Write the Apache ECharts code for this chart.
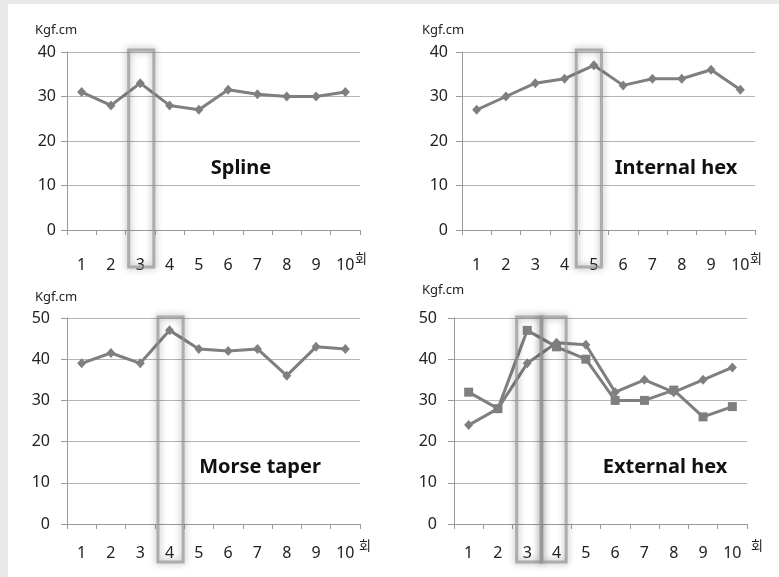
<!DOCTYPE html>
<html>
<head>
<meta charset="utf-8">
<script src="https://cdn.jsdelivr.net/npm/echarts@6/dist/echarts.min.js"></script>
<style>
html,body{margin:0;padding:0;background:#e8e8e8;}
#c{width:779px;height:577px;}
</style>
</head>
<body>
<div id="c"></div>
<script>
// ---- data ----
const categories = ['1','2','3','4','5','6','7','8','9','10'];
const splineValues = [31, 28, 33, 28, 27, 31.5, 30.5, 30, 30, 31];
const internalHexValues = [27, 30, 33, 34, 37, 32.5, 34, 34, 36, 31.5];
const morseTaperValues = [39, 41.5, 39, 47, 42.5, 42, 42.5, 36, 43, 42.5];
const externalHexDiamondValues = [24, 28, 39, 44, 43.5, 32, 35, 32, 35, 38];
const externalHexSquareValues = [32, 28, 47, 43, 40, 30, 30, 32.5, 26, 28.5];
const panelTitles = ['Spline', 'Internal hex', 'Morse taper', 'External hex'];
const yMaxValues = [40, 40, 50, 50];
const highlightCategories = [['3'], ['5'], ['4'], ['3', '4']];
const unitLabel = 'Kgf.cm';
const countLabel = '회';

// ---- layout ----
const grids = [
  {left: 67, top: 52, width: 293, height: 178},
  {left: 462, top: 52, width: 293, height: 178},
  {left: 67, top: 318, width: 293, height: 206},
  {left: 454, top: 318, width: 293, height: 206}
];
const xLabelMargin = [27, 27, 21, 21];
const yLabelMargin = [11, 14, 17, 17];
const countPos = [[355, 252], [750, 252], [359, 539], [751, 539]];
const unitPos = [[35, 30], [422, 30], [35, 297], [422, 290]];
const titlePos = [[241, 168], [676, 168], [260, 467], [665, 467]];
const boxDx = [[1], [-5], [1], [2, -3]];
const boxY = [[50, 267], [50, 267], [317, 562], [317, 562]];

const FONT = '"Noto Sans", "Noto Sans CJK KR", sans-serif';
const LINE = '#7f7f7f';

const xAxes = grids.map((g, i) => ({
  type: 'category', gridIndex: i, data: categories, boundaryGap: true,
  axisLine: {show: true, lineStyle: {color: '#9a9a9a', width: 1}},
  axisTick: {show: true, length: 5, lineStyle: {color: '#9a9a9a'}},
  axisLabel: {color: '#222', fontSize: 16, fontFamily: FONT, margin: xLabelMargin[i]},
  splitLine: {show: false}
}));
const yAxes = grids.map((g, i) => ({
  type: 'value', gridIndex: i, min: 0, max: yMaxValues[i], interval: 10,
  axisLine: {show: true, lineStyle: {color: '#9a9a9a', width: 1}},
  axisTick: {show: true, length: 6, lineStyle: {color: '#9a9a9a'}},
  axisLabel: {color: '#222', fontSize: 16, fontFamily: FONT, margin: yLabelMargin[i]},
  splitLine: {show: true, lineStyle: {color: '#b4b4b4', width: 1}}
}));

function lineSeries(idx, values, symbol, size) {
  return {
    type: 'line', xAxisIndex: idx, yAxisIndex: idx, data: values,
    symbol: symbol, symbolSize: size, showSymbol: true,
    lineStyle: {color: LINE, width: 3},
    itemStyle: {color: LINE},
    animation: false, z: 3
  };
}

const series = [
  lineSeries(0, splineValues, 'diamond', [9, 10]),
  lineSeries(1, internalHexValues, 'diamond', [9, 10]),
  lineSeries(2, morseTaperValues, 'diamond', [9, 10]),
  lineSeries(3, externalHexDiamondValues, 'diamond', [9, 10]),
  lineSeries(3, externalHexSquareValues, 'rect', 9)
];

const chart = echarts.init(document.getElementById('c'));
const baseGraphics = [
  {type: 'rect', shape: {x: 8, y: 4, width: 771, height: 573}, style: {fill: '#ffffff'}, z: -10, silent: true}
];
grids.forEach((g, i) => {
  baseGraphics.push({type: 'text', x: unitPos[i][0], y: unitPos[i][1],
    style: {text: unitLabel, fill: '#222', font: '13px ' + FONT, verticalAlign: 'middle'}});
  baseGraphics.push({type: 'text', x: titlePos[i][0], y: titlePos[i][1],
    style: {text: panelTitles[i], fill: '#111', font: 'bold 20px ' + FONT, align: 'center', verticalAlign: 'middle'}});
  baseGraphics.push({type: 'text', x: countPos[i][0], y: countPos[i][1],
    style: {text: countLabel, fill: '#222', font: '13px "Noto Sans CJK KR", sans-serif', verticalAlign: 'top'}});
});

chart.setOption({
  animation: false,
  backgroundColor: '#e8e8e8',
  grid: grids.map(g => Object.assign({containLabel: false}, g)),
  xAxis: xAxes,
  yAxis: yAxes,
  series: series,
  graphic: baseGraphics
});

// highlight boxes, positioned from the category axes
const boxes = [];
grids.forEach((g, i) => {
  const band = g.width / categories.length;
  const w = band * 0.86;
  highlightCategories[i].forEach((cat, k) => {
    const p = chart.convertToPixel({xAxisIndex: i, yAxisIndex: i}, [cat, 0]);
    const cx = p[0] + boxDx[i][k];
    boxes.push({
      type: 'rect', z: 10, silent: true,
      shape: {x: cx - w / 2, y: boxY[i][0], width: w, height: boxY[i][1] - boxY[i][0]},
      style: {fill: 'none', stroke: 'rgba(150,150,150,0.7)', lineWidth: 3,
        shadowBlur: 7, shadowColor: 'rgba(0,0,0,0.5)'}
    });
  });
});
chart.setOption({graphic: baseGraphics.concat(boxes)});
</script>
</body>
</html>
